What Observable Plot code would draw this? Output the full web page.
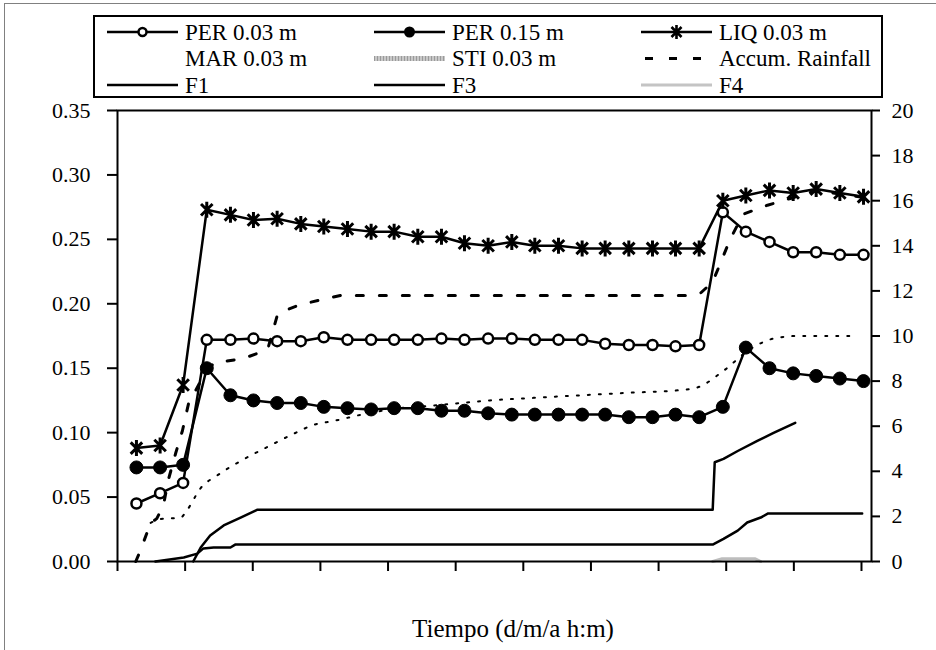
<!DOCTYPE html>
<html>
<head>
<meta charset="utf-8">
<script src="https://cdn.jsdelivr.net/npm/d3@7"></script>
<script src="https://cdn.jsdelivr.net/npm/@observablehq/plot@0.6"></script>
<style>
  body { margin: 0; background: #fff; }
  #wrap { position: relative; width: 936px; height: 650px; overflow: hidden; background: #fff;
          font-family: "Liberation Serif", "Times New Roman", Times, "DejaVu Serif", serif; }
  #outer { position: absolute; left: 4px; top: 3px; width: 980px; height: 700px; border: 1px solid #808080; }
  #chart { position: absolute; left: 0; top: 100px; }
  #xtitle { position: absolute; left: 0; top: 614px; width: 1026px; text-align: center;
            font-size: 25px; line-height: 30px; color: #000; }
</style>
</head>
<body>
<div id="wrap">
  <div id="outer"></div>
  <div id="chart"></div>
  <div id="xtitle">Tiempo (d/m/a h:m)</div>
</div>
<script>
// ---------- data (x in tick units of the time axis) ----------
const xTicks = [0,1,2,3,4,5,6,7,8,9,10,11];
const leftTicks = [0,0.05,0.10,0.15,0.20,0.25,0.30,0.35];
const rightTicks = [0,2,4,6,8,10,12,14,16,18,20];

const time = [0.28,0.63,0.97,1.32,1.67,2.01,2.36,2.71,3.05,3.40,3.75,4.09,4.44,4.79,5.13,5.48,
              5.83,6.17,6.52,6.87,7.21,7.56,7.91,8.25,8.60,8.95,9.29,9.64,9.99,10.33,10.68,11.03];
const per003 = [0.045,0.053,0.061,0.172,0.172,0.173,0.171,0.171,0.174,0.172,0.172,0.172,0.172,0.173,0.172,0.173,
                0.173,0.172,0.172,0.172,0.169,0.168,0.168,0.167,0.168,0.271,0.256,0.248,0.240,0.240,0.238,0.238];
const per015 = [0.073,0.073,0.075,0.150,0.129,0.125,0.123,0.123,0.120,0.119,0.118,0.119,0.119,0.117,0.117,0.115,
                0.114,0.114,0.114,0.114,0.114,0.112,0.112,0.114,0.112,0.120,0.166,0.150,0.146,0.144,0.142,0.140];
const liq003 = [0.088,0.090,0.137,0.273,0.269,0.265,0.266,0.262,0.260,0.258,0.256,0.256,0.252,0.252,0.247,0.245,
                0.248,0.245,0.245,0.243,0.243,0.243,0.243,0.243,0.243,0.280,0.284,0.288,0.286,0.289,0.286,0.283];

// MAR 0.03 m (dotted, left axis)
const marT = [0.49,0.64,0.93,1.03,1.23,1.48,1.82,2.22,2.60,2.90,3.19,3.70,4.18,4.67,5.07,5.51,6.15,6.85,7.58,8.32,8.57,8.96,9.36,9.70,10.05,10.84];
const marV = [0.030,0.033,0.034,0.040,0.057,0.067,0.078,0.089,0.099,0.106,0.109,0.115,0.119,0.121,0.123,0.125,0.127,0.129,0.131,0.133,0.135,0.148,0.165,0.173,0.175,0.175];

// Accumulated rainfall (right axis)
const rainT = [0.27,0.34,0.49,0.58,0.68,0.75,0.86,0.96,1.05,1.23,1.42,1.86,2.22,2.37,2.71,3.30,8.47,8.62,8.80,8.91,9.06,9.25,9.61,9.95,10.33,10.68,11.03];
const rainV = [0,0.5,1.7,1.9,2.5,3.6,4.8,5.8,7.0,8.0,8.8,9.0,9.4,11.0,11.4,11.8,11.8,11.9,12.4,13.2,14.3,15.4,15.8,16.1,16.45,16.3,16.15];

// F1, F3, F4 (right axis)
const f1T = [1.12,1.23,1.37,1.57,1.82,2.07,8.80,8.83,8.96,9.17,9.46,9.70,10.02];
const f1V = [0,0.62,1.15,1.6,1.95,2.3,2.3,4.4,4.55,4.9,5.35,5.7,6.15];
const f3T = [0.56,0.98,1.18,1.27,1.42,1.67,1.74,8.80,8.96,9.17,9.31,9.51,9.62,11.01];
const f3V = [0,0.18,0.35,0.58,0.62,0.62,0.75,0.75,1.0,1.37,1.73,1.95,2.13,2.13];
const f4T = [8.80,8.94,9.43,9.51];
const f4V = [0,0.12,0.12,0];

const legendLabels = ["PER 0.03 m","PER 0.15 m","LIQ 0.03 m","MAR 0.03 m","STI 0.03 m","Accum. Rainfall","F1","F3","F4"];

// ---------- helpers ----------
const FONT = "'Liberation Serif', 'Times New Roman', Times, 'DejaVu Serif', serif";
const K = 0.35 / 20; // right-axis units -> left-axis units
const pts = (t, v) => t.map((x, i) => ({x, y: v[i]}));
const star = {
  draw(ctx, size) {
    const r = Math.sqrt(size / Math.PI);
    const d = r * 0.72;
    ctx.moveTo(0, -r); ctx.lineTo(0, r);
    ctx.moveTo(-d, -d); ctx.lineTo(d, d);
    ctx.moveTo(-d, d); ctx.lineTo(d, -d);
  }
};
const mainLine = {x: "x", y: "y", stroke: "black", strokeWidth: 2.5};

const chart = Plot.plot({
  width: 936, height: 490,
  marginLeft: 117, marginRight: 65, marginTop: 10, marginBottom: 29,
  x: {type: "linear", domain: [0, 11.148], axis: null},
  y: {type: "linear", domain: [0, 0.35], axis: null},
  style: {fontFamily: FONT, fontSize: "22px", color: "black", background: "transparent", overflow: "visible"},
  marks: [
    Plot.axisX(xTicks, {tickSize: 10, tickFormat: () => "", strokeWidth: 2, label: null}),
    Plot.axisY(leftTicks, {anchor: "left", tickSize: 10, tickPadding: 17, tickFormat: d3.format(".2f"), strokeWidth: 2, label: null, fontSize: 22}),
    Plot.axisY(rightTicks, {anchor: "right", y: d => d * K, tickSize: 8, tickPadding: 12, tickFormat: d => String(d), strokeWidth: 2, label: null, fontSize: 22}),
    Plot.line(pts(f4T, f4V), {x: "x", y: d => d.y * K, stroke: "#bdbdbd", strokeWidth: 3}),
    Plot.line(pts(f3T, f3V), {x: "x", y: d => d.y * K, stroke: "black", strokeWidth: 2.5}),
    Plot.line(pts(f1T, f1V), {x: "x", y: d => d.y * K, stroke: "black", strokeWidth: 2.5}),
    Plot.line(pts(marT, marV), {x: "x", y: "y", stroke: "black", strokeWidth: 2, strokeDasharray: "2,9", curve: "monotone-x"}),
    Plot.line(pts(rainT, rainV), {x: "x", y: d => d.y * K, stroke: "black", strokeWidth: 3, strokeDasharray: "7,16"}),
    Plot.line(pts(time, per015), mainLine),
    Plot.dot(pts(time, per015), {x: "x", y: "y", r: 6.5, fill: "black", stroke: "black", strokeWidth: 1}),
    Plot.line(pts(time, per003), mainLine),
    Plot.dot(pts(time, per003), {x: "x", y: "y", r: 5, fill: "white", stroke: "black", strokeWidth: 2.5}),
    Plot.line(pts(time, liq003), mainLine),
    Plot.dot(pts(time, liq003), {x: "x", y: "y", r: 8, symbol: star, fill: "none", stroke: "black", strokeWidth: 3}),
    Plot.frame({stroke: "black", strokeWidth: 2})
  ]
});
document.getElementById("chart").appendChild(chart);

// ---------- legend ----------
const lg = d3.select("#wrap").append("svg")
  .attr("width", 936).attr("height", 100)
  .style("position", "absolute").style("left", "0px").style("top", "0px");
lg.append("rect").attr("x", 94).attr("y", 16).attr("width", 788).attr("height", 81)
  .attr("fill", "white").attr("stroke", "black").attr("stroke-width", 2);
const cols = [107, 374, 641], rows = [32, 58.5, 85], L = 71;
legendLabels.forEach((lab, i) => {
  const c = i % 3, r = Math.floor(i / 3);
  const x0 = cols[c], y = rows[r];
  const g = lg.append("g");
  const line = (stroke, w, dash) => {
    const l = g.append("line").attr("x1", x0).attr("x2", x0 + L).attr("y1", y).attr("y2", y)
      .attr("stroke", stroke).attr("stroke-width", w);
    if (dash) l.attr("stroke-dasharray", dash);
  };
  if (i === 0) { line("black", 2.5); g.append("circle").attr("cx", x0 + L / 2).attr("cy", y).attr("r", 4).attr("fill", "white").attr("stroke", "black").attr("stroke-width", 2.5); }
  if (i === 1) { line("black", 2.5); g.append("circle").attr("cx", x0 + L / 2).attr("cy", y).attr("r", 5.5).attr("fill", "black"); }
  if (i === 2) { line("black", 2.5); const p = d3.path(); star.draw(p, Math.PI * 49);
    g.append("path").attr("d", p.toString()).attr("transform", `translate(${x0 + L / 2},${y})`).attr("stroke", "black").attr("stroke-width", 2.6).attr("fill", "none"); }
  if (i === 4) { line("#c8c8c8", 5); line("#9a9a9a", 5, "1,2"); }
  if (i === 5) { g.append("line").attr("x1", x0 + 4).attr("x2", x0 + L).attr("y1", y).attr("y2", y).attr("stroke", "black").attr("stroke-width", 3).attr("stroke-dasharray", "8,16"); }
  if (i === 6 || i === 7) { line("black", 2.5); }
  if (i === 8) { line("#c4c4c4", 3); }
  g.append("text").attr("x", x0 + L + 7).attr("y", y + 7.5)
    .style("font-family", FONT).attr("font-size", 23).attr("fill", "black")
    .text(lab);
});
</script>
</body>
</html>
